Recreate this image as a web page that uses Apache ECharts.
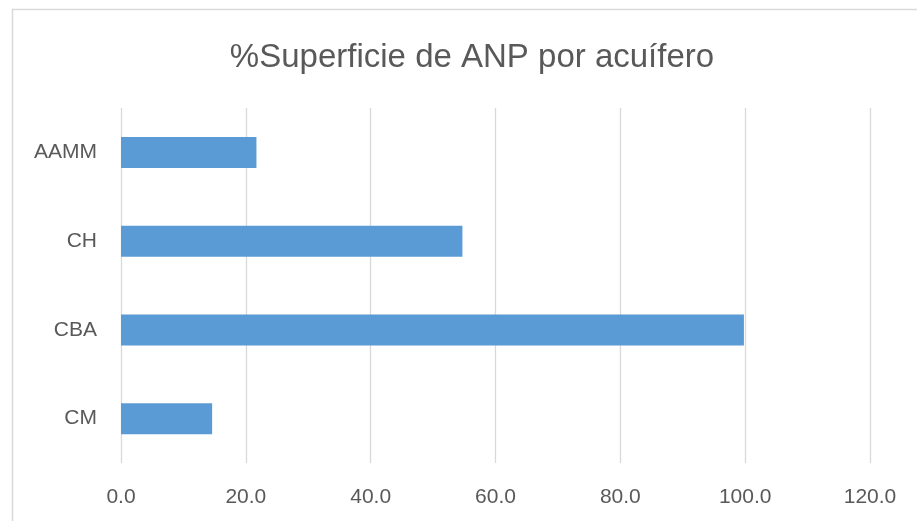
<!DOCTYPE html>
<html>
<head>
<meta charset="utf-8">
<script src="https://cdn.jsdelivr.net/npm/echarts@6/dist/echarts.min.js"></script>
<style>
	html, body { margin: 0; padding: 0; background: #fff; }
	#chart { width: 917px; height: 521px; }
</style>
</head>
<body>
<div id="chart"></div>
<script>
	// datos
	const categories = ['CM', 'CBA', 'CH', 'AAMM'];
	const values = [14.6, 99.8, 54.7, 21.7];
	const xTicks = { min: 0, max: 120, interval: 20 };

	const font = 'Liberation Sans, Arial, sans-serif';
	const chart = echarts.init(document.getElementById('chart'));
	chart.setOption({
		animation: false,
		backgroundColor: '#fff',
		title: {
			text: '%Superficie de ANP por acuífero',
			left: 467,
			top: 36,
			textAlign: 'center',
			textStyle: { color: '#595959', fontSize: 33, fontWeight: 'normal', fontFamily: font }
		},
		graphic: [{
			type: 'rect',
			shape: { x: 12.5, y: 9.5, width: 1000, height: 1000 },
			style: { fill: 'none', stroke: '#d9d9d9', lineWidth: 1.5 },
			silent: true
		}],
		grid: { left: 121, right: 47, top: 108, bottom: 58 },
		xAxis: {
			type: 'value',
			min: xTicks.min,
			max: xTicks.max,
			interval: xTicks.interval,
			axisLine: { show: false },
			axisTick: { show: false },
			splitLine: { show: true, lineStyle: { color: '#d9d9d9', width: 1.3 } },
			axisLabel: {
				margin: 24,
				color: '#595959',
				fontSize: 21,
				fontFamily: font,
				formatter: v => v.toFixed(1)
			}
		},
		yAxis: {
			type: 'category',
			data: categories,
			axisLine: { show: false },
			axisTick: { show: false },
			axisLabel: { margin: 24, color: '#595959', fontSize: 21, fontFamily: font }
		},
		series: [{
			type: 'bar',
			data: values,
			barWidth: 31,
			itemStyle: { color: '#5b9bd5' }
		}]
	});
</script>
</body>
</html>
